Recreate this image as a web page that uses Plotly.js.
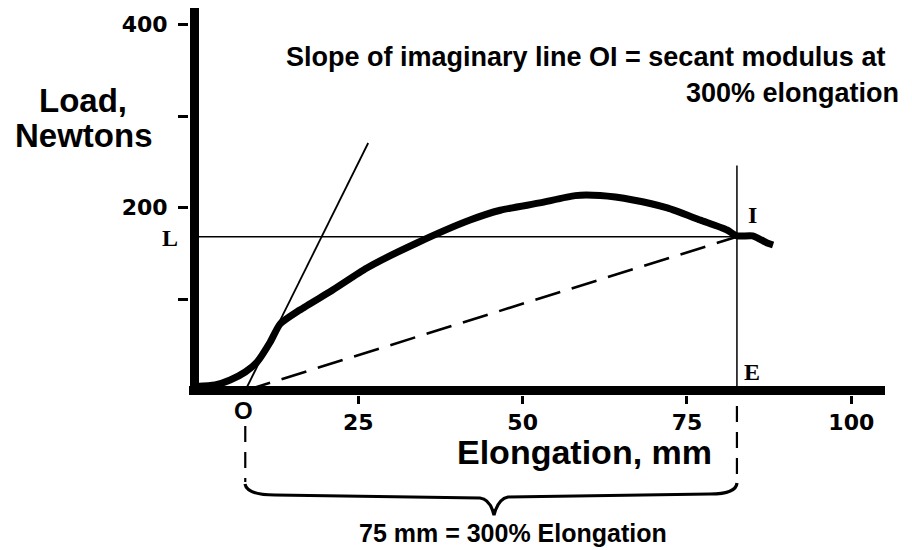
<!DOCTYPE html>
<html>
<head>
<meta charset="utf-8">
<script src="https://cdn.plot.ly/plotly-3.0.1.min.js"></script>
<style>html,body{margin:0;padding:0;background:#fff;}#chart{width:912px;height:550px;}</style>
</head>
<body>
<div id="chart"></div>
<script>
// ---- data ----
const curveX = [0.3, 3.2, 5.5, 7.8, 9.6, 11.6, 13.1, 16.1, 21.1, 26.3, 33.9, 42.0, 46.6, 52.6, 58.0, 61.8, 66.8, 72.0, 77.0, 81.1, 82.6, 85.0, 87.2, 88.1];
const curveY = [4.4, 6.0, 11.5, 20.2, 31.1, 53.0, 72.7, 88.0, 109.8, 133.9, 161.2, 186.3, 197.0, 205.0, 213.0, 213.0, 208.2, 199.5, 186.3, 175.4, 169.0, 169.0, 161.2, 159.0];
const tangentX = [7.8, 26.5];
const tangentY = [0, 270.5];
const secantX = [7.8, 82.6];
const secantY = [0, 168];
const levelLX = [0, 82.6];
const levelLY = [168, 168];
const verticalEX = [82.6, 82.6];
const verticalEY = [0, 246];
const pointO = 7.8;
const pointE = 82.6;
const xTickVals = [25, 50, 75, 100];
const xTickText = ['25', '50', '75', '100'];
const yTickVals = [100, 200, 300, 400];
const yTickText = ['', '200', '', '400'];

// ---- layout geometry ----
const W = 912, H = 550;
const ML = 189, MR = 27, MT = 8, MB = 155;
const PW = W - ML - MR, PH = H - MT - MB;
const X0PX = 194, XS = 6.573;     // px of x=0, px per mm
const Y0PX = 390.5, YS = 0.915;   // px of y=0, px per N
const xRange = [(ML - X0PX) / XS, (ML + PW - X0PX) / XS];
const yRange = [(Y0PX - (MT + PH)) / YS, (Y0PX - MT) / YS];
const dataX = px => (px - X0PX) / XS;
const paperX = px => (px - ML) / PW;
const paperY = py => (MT + PH - py) / PH;

const sans = 'Liberation Sans, Arial, Helvetica, sans-serif';
const serif = 'Liberation Serif, Times New Roman, serif';

const traces = [
  {x: levelLX, y: levelLY, mode: 'lines', line: {color: '#000', width: 1.5}, hoverinfo: 'skip'},
  {x: verticalEX, y: verticalEY, mode: 'lines', line: {color: '#000', width: 1.5}, hoverinfo: 'skip'},
  {x: tangentX, y: tangentY, mode: 'lines', line: {color: '#000', width: 1.8}, hoverinfo: 'skip'},
  {x: secantX, y: secantY, mode: 'lines', line: {color: '#000', width: 2.6, dash: '26px,12px'}, hoverinfo: 'skip'},
  {x: curveX, y: curveY, mode: 'lines', line: {color: '#000', width: 7, shape: 'spline', smoothing: 0.6}, hoverinfo: 'skip'}
];

function ann(text, px, py, size, opts) {
  opts = opts || {};
  return Object.assign({
    text: '<b>' + text + '</b>', xref: 'paper', yref: 'paper',
    x: paperX(px), y: paperY(py), showarrow: false,
    xanchor: 'center', yanchor: 'middle', borderpad: 0,
    font: {family: sans, size: size, color: '#000'}
  }, opts);
}

// brace built in pixel space, converted to data-x / paper-y
const bracePts = [
  ['M', 245, 484], ['Q', 247, 495, 275, 495], ['L', 480, 498],
  ['Q', 490, 499, 494, 515], ['Q', 498, 499, 508, 497],
  ['L', 710, 494], ['Q', 736, 494, 737, 483]
];
const bracePath = bracePts.map(p => {
  let s = p[0];
  for (let i = 1; i < p.length; i += 2) s += ' ' + dataX(p[i]).toFixed(3) + ',' + paperY(p[i + 1]).toFixed(4);
  return s;
}).join(' ');

const layout = {
  width: W, height: H,
  margin: {l: ML, r: MR, t: MT, b: MB, pad: 0},
  paper_bgcolor: '#fff', plot_bgcolor: '#fff',
  showlegend: false,
  xaxis: {
    range: xRange, showgrid: false, showline: false,
    zeroline: true, zerolinecolor: '#000', zerolinewidth: 9,
    ticks: 'outside', ticklen: 8, tickwidth: 3, tickcolor: '#000',
    tickmode: 'array', tickvals: xTickVals, ticktext: xTickText.map(t => '<b>' + t + '</b>'),
    tickfont: {family: 'DejaVu Sans, sans-serif', size: 22, color: '#000', weight: 'bold'},
    fixedrange: true
  },
  yaxis: {
    range: yRange, showgrid: false, showline: false,
    zeroline: true, zerolinecolor: '#000', zerolinewidth: 9,
    ticks: 'outside', ticklen: 10, tickwidth: 3, tickcolor: '#000',
    tickmode: 'array', tickvals: yTickVals, ticktext: yTickText.map(t => t ? '<b>' + t + '</b>' : ''),
    tickfont: {family: 'DejaVu Sans, sans-serif', size: 22, color: '#000', weight: 'bold'},
    ticklabelstandoff: 6,
    fixedrange: true
  },
  shapes: [
    {type: 'line', xref: 'x', yref: 'paper', x0: pointO, x1: pointO, y0: paperY(426), y1: paperY(482),
     line: {color: '#000', width: 2.2, dash: '16px,10px'}},
    {type: 'line', xref: 'x', yref: 'paper', x0: pointE, x1: pointE, y0: paperY(406), y1: paperY(482),
     line: {color: '#000', width: 2.2, dash: '16px,10px'}},
    {type: 'path', xref: 'x', yref: 'paper', path: bracePath, line: {color: '#000', width: 3.2}}
  ],
  annotations: [
    ann('Slope of imaginary line OI = secant modulus at', 585, 57, 27),
    ann('300% elongation', 900, 93, 27, {xanchor: 'right'}),
    ann('Load,', 83, 100, 33),
    ann('Newtons', 84, 135, 33),
    ann('L', 170, 238, 24, {font: {family: serif, size: 24, color: '#000'}}),
    ann('I', 752, 215, 24, {font: {family: serif, size: 24, color: '#000'}}),
    ann('E', 752, 372, 24, {font: {family: serif, size: 24, color: '#000'}}),
    ann('O', 243, 411, 24),
    ann('Elongation, mm', 584, 452, 34),
    ann('75 mm = 300% Elongation', 513, 533, 25)
  ]
};

Plotly.newPlot('chart', traces, layout, {staticPlot: true, displayModeBar: false});
</script>
</body>
</html>
